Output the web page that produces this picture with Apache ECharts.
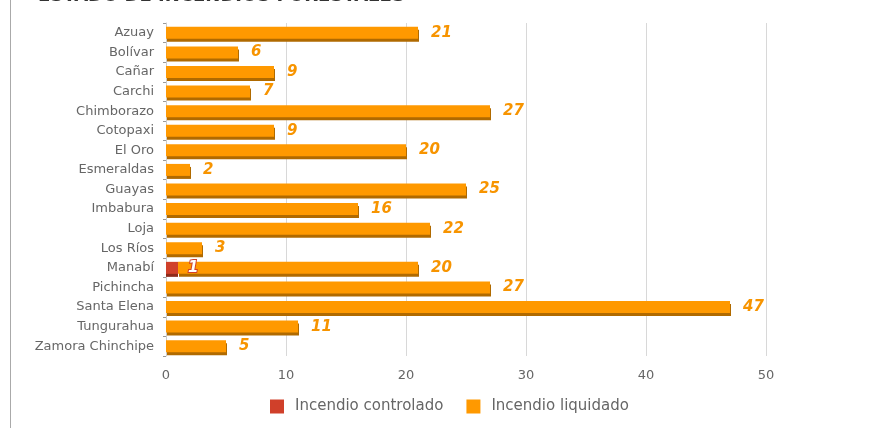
<!DOCTYPE html>
<html>
<head>
<meta charset="utf-8">
<script src="https://cdn.jsdelivr.net/npm/echarts@6/dist/echarts.min.js"></script>
<style>
  html, body { margin: 0; padding: 0; background: #fff; }
  #main { width: 889px; height: 428px; }
</style>
</head>
<body>
<div id="main"></div>
<script>
var provincias = ['Azuay', 'Bolívar', 'Cañar', 'Carchi', 'Chimborazo', 'Cotopaxi', 'El Oro', 'Esmeraldas', 'Guayas', 'Imbabura', 'Loja', 'Los Ríos', 'Manabí', 'Pichincha', 'Santa Elena', 'Tungurahua', 'Zamora Chinchipe'];
var controlado = [0, 0, 0, 0, 0, 0, 0, 0, 0, 0, 0, 0, 1, 0, 0, 0, 0];
var liquidado = [21, 6, 9, 7, 27, 9, 20, 2, 25, 16, 22, 3, 20, 27, 47, 11, 5];
var xTicks = [0, 10, 20, 30, 40, 50];

var chart = echarts.init(document.getElementById('main'));

var option = {
  animation: false,
  textStyle: { fontFamily: 'DejaVu Sans' },
  title: {
    text: 'ESTADO DE INCENDIOS FORESTALES',
    left: 33,
    top: -18,
    textStyle: { fontSize: 18, fontWeight: 'bold', color: '#333' }
  },
  graphic: [{
    type: 'line',
    shape: { x1: 10.5, y1: 0, x2: 10.5, y2: 428 },
    style: { stroke: '#aaa', lineWidth: 1 }
  }],
  grid: {
    left: 166,
    right: 123,
    top: 23,
    bottom: 72
  },
  legend: {
    bottom: 9,
    left: 265,
    itemWidth: 14,
    itemHeight: 14,
    itemGap: 23,
    icon: 'rect',
    textStyle: { color: '#666', fontSize: 15, padding: [0, 0, 0, 6] },
    data: ['Incendio controlado', 'Incendio liquidado']
  },
  xAxis: {
    type: 'value',
    min: xTicks[0],
    max: xTicks[xTicks.length - 1],
    interval: 10,
    axisLine: { show: false },
    axisTick: { show: false },
    axisLabel: { color: '#666', fontSize: 13, margin: 13 },
    splitLine: { lineStyle: { color: '#d8d8d8' } }
  },
  yAxis: {
    type: 'category',
    inverse: true,
    data: provincias,
    axisLine: { show: true, lineStyle: { color: '#ccc' } },
    axisTick: { show: true, length: 3, lineStyle: { color: '#999' } },
    axisLabel: { color: '#666', fontSize: 13, margin: 12 }
  },
  series: [{
    name: 'Incendio controlado',
    type: 'bar',
    stack: 'total',
    barWidth: 12,
    data: controlado,
    itemStyle: {
      color: '#D0402A',
      shadowColor: '#8E2A1A',
      shadowOffsetY: 3,
      shadowOffsetX: 0,
      shadowBlur: 0
    },
    label: {
      show: true,
      position: 'right',
      distance: 10,
      fontStyle: 'italic',
      fontWeight: 'bold',
      fontSize: 15,
      color: '#fff',
      textBorderColor: '#D0402A',
      textBorderWidth: 2,
      formatter: function (p) { return p.value ? p.value : ''; }
    }
  }, {
    name: 'Incendio liquidado',
    type: 'bar',
    stack: 'total',
    barWidth: 12,
    data: liquidado,
    itemStyle: {
      color: '#FF9900',
      shadowColor: '#B06A00',
      shadowOffsetY: 3,
      shadowOffsetX: 1,
      shadowBlur: 0
    },
    label: {
      show: true,
      position: 'right',
      distance: 13,
      fontStyle: 'italic',
      fontWeight: 'bold',
      fontSize: 15,
      color: '#F79400'
    }
  }]
};

chart.setOption(option);
</script>
</body>
</html>
